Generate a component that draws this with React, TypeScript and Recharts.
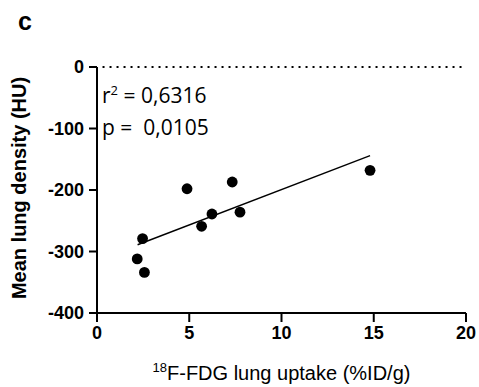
import { ScatterChart, Scatter, XAxis, YAxis, ReferenceLine, Label } from 'recharts';

// 18F-FDG uptake (%ID/g) vs mean lung density (HU)
const uptake = [2.18, 2.57, 2.47, 4.88, 5.67, 6.23, 7.33, 7.75, 14.8];
const density = [-312, -334, -279, -198, -259, -239, -187, -236, -168];

// regression line end points
const fitX = [2.2, 14.8];
const fitY = [-289, -144];

const xTicks = [0, 5, 10, 15, 20];
const yTicks = [0, -100, -200, -300, -400];

const points = uptake.map((x, i) => ({ x, y: density[i] }));
const fit = fitX.map((x, i) => ({ x, y: fitY[i] }));

const tickFont = { fontFamily: 'Liberation Sans, Arial, sans-serif', fontSize: 18, fontWeight: 700, fill: '#000' };

const XLabel = (props: any) => {
  const { viewBox } = props;
  const cx = viewBox.x + viewBox.width / 2;
  return (
    <text x={cx} y={380} textAnchor="middle" fontFamily="Liberation Sans, Arial, sans-serif" fontSize={20} fill="#000">
      <tspan fontSize={13} dy={-8}>18</tspan>
      <tspan dy={8}>F-FDG lung uptake (%ID/g)</tspan>
    </text>
  );
};

const YLabel = () => (
  <text
    x={0}
    y={0}
    transform="translate(25.5, 188) rotate(-90)"
    textAnchor="middle"
    fontFamily="Liberation Sans, Arial, sans-serif"
    fontSize={20}
    fontWeight={700}
    fill="#000"
  >
    Mean lung density (HU)
  </text>
);

const noShape = () => <g />;
const dot = (p: any) => <circle cx={p.cx} cy={p.cy} r={5.4} fill="#000" />;

export default function App() {
  return (
    <div style={{ position: 'absolute', left: 0, top: 0, width: 479, height: 387, background: '#fff' }}>
      <ScatterChart width={479} height={387} margin={{ top: 67, right: 13, bottom: 14, left: 27 }}>
        <XAxis
          type="number"
          dataKey="x"
          domain={[0, 20]}
          ticks={xTicks}
          height={60}
          stroke="#000"
          strokeWidth={2}
          tickSize={9}
          tickMargin={4}
          tick={tickFont}
          tickLine={{ stroke: '#000', strokeWidth: 2 }}
        >
          <Label content={<XLabel />} />
        </XAxis>
        <YAxis
          type="number"
          dataKey="y"
          domain={[-400, 0]}
          ticks={yTicks}
          width={70}
          stroke="#000"
          strokeWidth={2}
          tickSize={8}
          tickMargin={5}
          tick={tickFont}
          tickLine={{ stroke: '#000', strokeWidth: 2 }}
        >
          <Label content={<YLabel />} />
        </YAxis>
        <ReferenceLine
          segment={[{ x: 0.3, y: 0 }, { x: 19.8, y: 0 }]}
          stroke="#000"
          strokeWidth={2}
          strokeDasharray="2 5"
        />
        <Scatter data={fit} line={{ stroke: '#000', strokeWidth: 1.4 }} shape={noShape} isAnimationActive={false} />
        <Scatter data={points} fill="#000" shape={dot} isAnimationActive={false} />
      </ScatterChart>
      <svg width={479} height={387} style={{ position: 'absolute', left: 0, top: 0, pointerEvents: 'none' }}>
        <text x={18} y={30} fontFamily="Liberation Sans, Arial, sans-serif" fontSize={25} fontWeight={700} fill="#000">c</text>
        <text x={102} y={103} fontFamily="Open Sans, sans-serif" fontSize={21} fill="#000">
          r<tspan fontSize={13} dy={-8}>2</tspan>
          <tspan dy={8}> = 0,6316</tspan>
        </text>
        <text x={102} y={135} fontFamily="Open Sans, sans-serif" fontSize={21} fill="#000" style={{ whiteSpace: 'pre' }}>
          p =  0,0105
        </text>
      </svg>
    </div>
  );
}
